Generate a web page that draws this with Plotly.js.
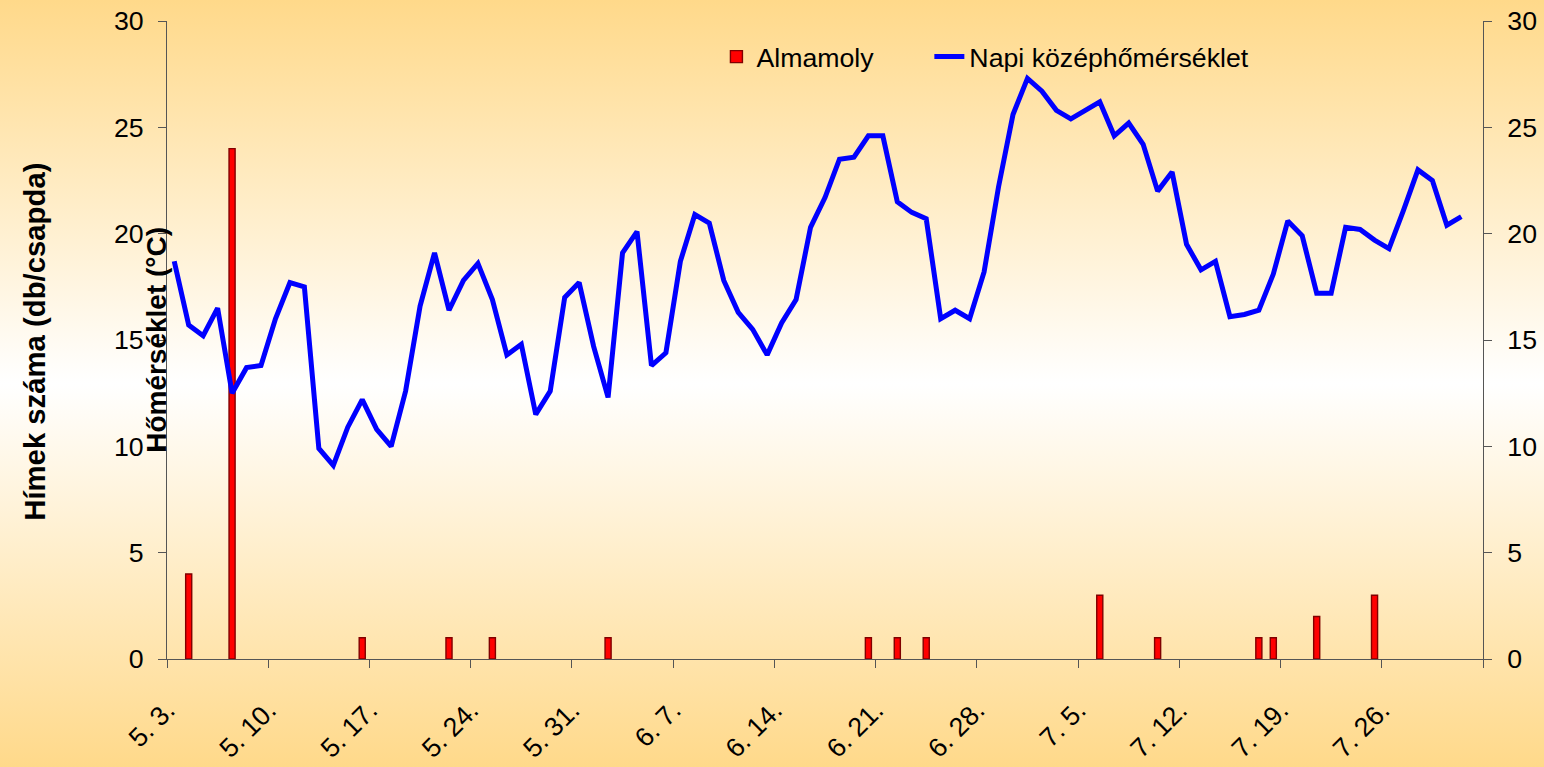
<!DOCTYPE html>
<html>
<head>
<meta charset="utf-8">
<script src="https://cdn.plot.ly/plotly-3.0.1.min.js"></script>
<style>
  html, body { margin: 0; padding: 0; }
  body { width: 1544px; height: 767px; overflow: hidden;
    background: linear-gradient(180deg, #FFD98A 0%, #FFFFFF 50%, #FFD98A 100%); }
  #chart { width: 1544px; height: 767px; }
</style>
</head>
<body>
<div id="chart"></div>
<script>
// ---- data ----
const startDate = '2009-05-03';          // first day of the series
const axisEndDate = '2009-08-02';        // end of the date axis
// Napi középhőmérséklet (°C), one value per day from 5.3. to 7.31.
const dailyTemp = [
  18.7, 15.7, 15.2, 16.5, 12.5, 13.7, 13.8, 16.0, 17.7, 17.5,
  9.9, 9.1, 10.9, 12.2, 10.8, 10.0, 12.6, 16.6, 19.1, 16.4,
  17.8, 18.6, 16.9, 14.3, 14.8, 11.5, 12.6, 17.0, 17.7, 14.7,
  12.3, 19.1, 20.1, 13.8, 14.4, 18.7, 20.9, 20.5, 17.8, 16.3,
  15.5, 14.3, 15.8, 16.9, 20.3, 21.7, 23.5, 23.6, 24.6, 24.6,
  21.5, 21.0, 20.7, 16.0, 16.4, 16.0, 18.2, 22.2, 25.6, 27.3,
  26.7, 25.8, 25.4, 25.8, 26.2, 24.6, 25.2, 24.2, 22.0, 22.9,
  19.5, 18.3, 18.7, 16.1, 16.2, 16.4, 18.1, 20.6, 19.9, 17.2,
  17.2, 20.3, 20.2, 19.7, 19.3, 21.1, 23.0, 22.5, 20.4, 20.8
];
// Almamoly: trap dates and male counts
const mothDates = ['2009-05-04','2009-05-07','2009-05-16','2009-05-22','2009-05-25',
  '2009-06-02','2009-06-20','2009-06-22','2009-06-24','2009-07-06',
  '2009-07-10','2009-07-17','2009-07-18','2009-07-21','2009-07-25'];
const mothCounts = [4, 24, 1, 1, 1, 1, 1, 1, 1, 3, 1, 1, 1, 2, 3];
// x tick labels (weekly), last tick unlabeled
const tickLabels = ['5. 3.','5. 10.','5. 17.','5. 24.','5. 31.','6. 7.','6. 14.',
  '6. 21.','6. 28.','7. 5.','7. 12.','7. 19.','7. 26.',''];
const seriesNames = ['Almamoly', 'Napi középhőmérséklet'];
const yTitleLeft = 'Hímek száma (db/csapda)';
const yTitleTemp = 'Hőmérséklet (°C)';

// ---- helpers ----
const DAY = 86400000;
function dayStr(base, n) {
  const p = base.split('-').map(Number);
  const d = new Date(Date.UTC(p[0], p[1]-1, p[2]) + n*DAY);
  return d.toISOString().slice(0,10);
}
const tempDates = dailyTemp.map((_, i) => dayStr(startDate, i) + ' 12:00');
const barX = mothDates.map(d => d + ' 12:00');
const tickVals = tickLabels.map((_, i) => dayStr(startDate, 7*i));

const FONT = 'Liberation Sans, Arial, sans-serif';
const AX = '#555555';

const traces = [
  { type: 'bar', name: seriesNames[0], x: barX, y: mothCounts,
    width: 0.42*DAY, xaxis: 'x', yaxis: 'y', legend: 'legend',
    marker: { color: '#FF0000', line: { color: '#800000', width: 1.4 } } },
  { type: 'scatter', mode: 'lines', name: seriesNames[1], x: tempDates, y: dailyTemp,
    xaxis: 'x', yaxis: 'y2', legend: 'legend2',
    line: { color: '#0000FF', width: 5 } }
];

const tickFont = { family: FONT, size: 26.7, color: '#000' };
const legFont = { family: FONT, size: 26.7, color: '#000' };
const xRange = [startDate, axisEndDate];

const layout = {
  width: 1544, height: 767,
  margin: { l: 166.5, r: 61.3, t: 20.7, b: 108.3, pad: 0 },
  paper_bgcolor: 'rgba(0,0,0,0)', plot_bgcolor: 'rgba(0,0,0,0)',
  showlegend: true,
  legend: { orientation: 'h', x: 0.4175, xanchor: 'left', y: 0.944, yanchor: 'middle',
    font: legFont, bgcolor: 'rgba(0,0,0,0)' },
  legend2: { orientation: 'h', x: 0.5793, xanchor: 'left', y: 0.944, yanchor: 'middle',
    font: legFont, bgcolor: 'rgba(0,0,0,0)' },
  bargap: 0,
  xaxis: { type: 'date', range: xRange, tickvals: tickVals, ticktext: tickLabels,
    tickangle: -45, ticks: 'outside', ticklen: 8, tickcolor: AX, tickwidth: 1,
    showline: true, linecolor: AX, linewidth: 1, showgrid: false, zeroline: false,
    tickfont: tickFont, ticklabelstandoff: 16 },
  xaxis2: { type: 'date', range: xRange, tickvals: tickVals, overlaying: 'x', anchor: 'y',
    ticks: 'inside', ticklen: 8, tickcolor: AX, tickwidth: 1, showticklabels: false,
    showline: false, showgrid: false, zeroline: false },
  yaxis: { range: [0, 30], dtick: 5, tick0: 0, ticks: 'outside', ticklen: 8,
    tickcolor: AX, tickwidth: 1, showline: true, linecolor: AX, linewidth: 1,
    showgrid: false, zeroline: false, tickfont: tickFont, ticklabelstandoff: 9 },
  yaxis2: { range: [0, 30], dtick: 5, tick0: 0, overlaying: 'y', side: 'right', anchor: 'x',
    ticks: 'outside', ticklen: 8, tickcolor: AX, tickwidth: 1, showline: true,
    linecolor: AX, linewidth: 1, showgrid: false, zeroline: false, tickfont: tickFont,
    ticklabelstandoff: 10 },
  yaxis3: { range: [0, 30], dtick: 5, tick0: 0, overlaying: 'y', side: 'left', anchor: 'x',
    ticks: 'inside', ticklen: 8, tickcolor: AX, showticklabels: false, showline: false,
    showgrid: false, zeroline: false },
  yaxis4: { range: [0, 30], dtick: 5, tick0: 0, overlaying: 'y', side: 'right', anchor: 'x',
    ticks: 'inside', ticklen: 8, tickcolor: AX, showticklabels: false, showline: false,
    showgrid: false, zeroline: false },
  annotations: [
    { text: '<b>' + yTitleLeft + '</b>', xref: 'paper', yref: 'paper',
      x: -0.1007, y: 0.498, xanchor: 'center', yanchor: 'middle', textangle: -90,
      showarrow: false, font: { family: FONT, size: 29.3, color: '#000' } },
    { text: '<b>' + yTitleTemp + '</b>', xref: 'paper', yref: 'paper',
      x: -0.008, y: 0.501, xanchor: 'center', yanchor: 'middle', textangle: -90,
      showarrow: false, font: { family: FONT, size: 28, color: '#000' } }
  ]
};

Plotly.newPlot('chart', traces, layout, { displayModeBar: false, staticPlot: true });
</script>
</body>
</html>
